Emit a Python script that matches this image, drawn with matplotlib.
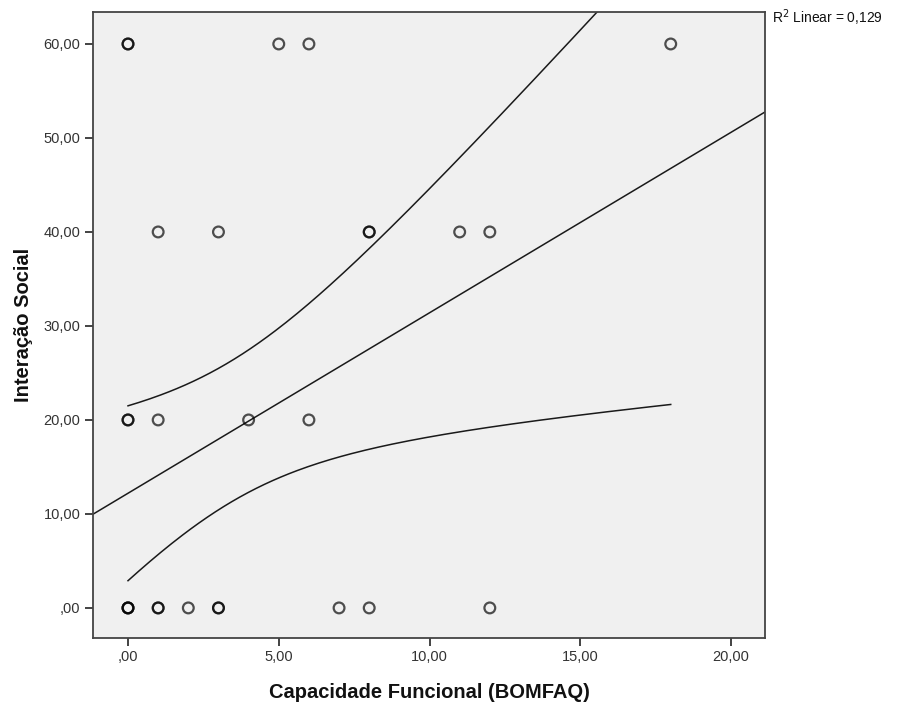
import matplotlib.pyplot as plt
import numpy as np

# data (repeated pairs = overlapping circles)
capacidade = [0, 0, 5, 6, 18,
              1, 3, 8, 8, 11, 12,
              0, 0, 1, 4, 6,
              0, 0, 0, 1, 1, 2, 3, 3, 7, 8, 12]
interacao = [60, 60, 60, 60, 60,
             40, 40, 40, 40, 40, 40,
             20, 20, 20, 20, 20,
             0, 0, 0, 0, 0, 0, 0, 0, 0, 0, 0]

# fit line and 95% mean CI
fit_intercept = 12.2
fit_slope = 1.92
ci_min_halfwidth_sq = 56.3   # squared half-width at x mean
ci_spread = 2.68             # growth of squared half-width
ci_xmean = 3.36
r2_text = "R$^2$ Linear = 0,129"

x_ticks = [0, 5, 10, 15, 20]
y_ticks = [0, 10, 20, 30, 40, 50, 60]


def fmt(v):
    # SPSS style: comma decimals, no leading zero
    return ",00" if v == 0 else f"{v:.2f}".replace('.', ',')


fig = plt.figure(figsize=(8.98, 7.07), dpi=100)
ax = fig.add_axes([0.1036, 0.0976, 0.7484, 0.8854])
ax.set_facecolor('#f0f0f0')

ax.scatter(capacidade, interacao, s=60, facecolors='none', edgecolors='black',
           linewidths=1.6, alpha=0.68, zorder=3)

xlim = (-1.16, 21.13)
xs = np.linspace(xlim[0], xlim[1], 200)
ax.plot(xs, fit_intercept + fit_slope * xs, color='#1a1a1a', lw=1.1, zorder=2)

xc = np.linspace(min(capacidade), max(capacidade), 200)
center = fit_intercept + fit_slope * xc
hw = np.sqrt(ci_min_halfwidth_sq + ci_spread * (xc - ci_xmean) ** 2)
ax.plot(xc, center + hw, color='#1a1a1a', lw=1.1, zorder=2)
ax.plot(xc, center - hw, color='#1a1a1a', lw=1.1, zorder=2)

ax.set_xlim(*xlim)
ax.set_ylim(-3.2, 63.4)
ax.set_xticks(x_ticks)
ax.set_xticklabels([fmt(v) for v in x_ticks])
ax.set_yticks(y_ticks)
ax.set_yticklabels([fmt(v) for v in y_ticks])
ax.tick_params(direction='out', length=6, width=1.2, color='#222222',
               labelsize=10.5, labelcolor='#333333', pad=3)
for lab in ax.get_xticklabels() + ax.get_yticklabels():
    lab.set_family(['Liberation Sans', 'DejaVu Sans'])
for sp in ax.spines.values():
    sp.set_color('#444444')
    sp.set_linewidth(1.3)

label_font = dict(family=['Liberation Sans', 'DejaVu Sans'],
                  fontsize=14.5, fontweight='bold', color='#111111')
ax.set_xlabel("Capacidade Funcional (BOMFAQ)", labelpad=13, **label_font)
ax.set_ylabel("Interação Social", labelpad=8, **label_font)

fig.text(772 / 898, 1 - 18 / 707, r2_text, fontsize=10, va='center', ha='left',
         family=['Liberation Sans', 'DejaVu Sans'], color='#111111')

fig.savefig('out.png', dpi=100, facecolor='white')
